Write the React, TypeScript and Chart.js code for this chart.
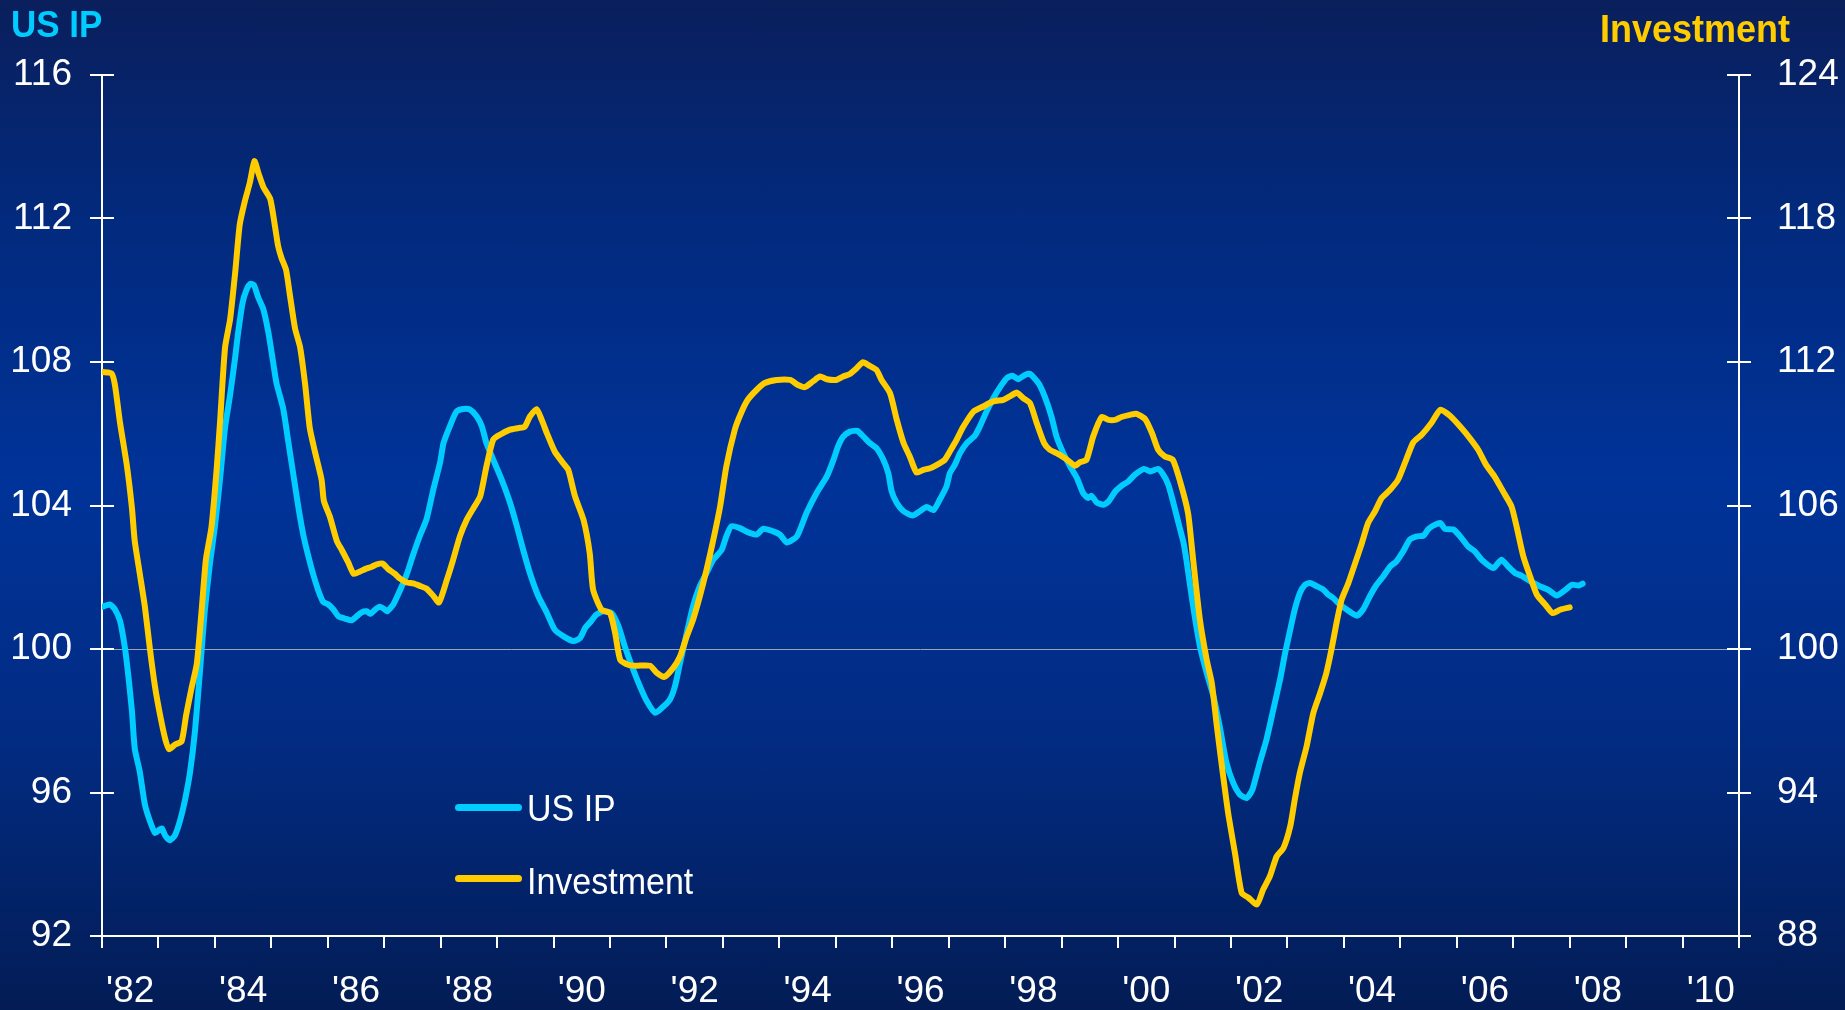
import React, { useEffect, useRef } from "react";
import { Chart, registerables } from "chart.js";

Chart.register(...registerables);

// ---- Data (decimal year, value) ----
const ipYears = [
  1982.01, 1982.14, 1982.23, 1982.32, 1982.41, 1982.47, 1982.53, 1982.58, 1982.67, 1982.76,
  1982.85, 1982.94, 1983.02, 1983.06, 1983.12, 1983.2, 1983.29, 1983.38, 1983.47, 1983.56,
  1983.65, 1983.74, 1983.82, 1983.91, 1984.0, 1984.09, 1984.18, 1984.27, 1984.36, 1984.41,
  1984.49, 1984.56, 1984.63, 1984.69, 1984.77, 1984.86, 1984.95, 1985.03, 1985.09, 1985.21,
  1985.3, 1985.39, 1985.48, 1985.57, 1985.65, 1985.74, 1985.83, 1985.92, 1986.01, 1986.1,
  1986.19, 1986.3, 1986.42, 1986.51, 1986.6, 1986.69, 1986.75, 1986.84, 1986.92, 1987.01,
  1987.05, 1987.16, 1987.28, 1987.4, 1987.51, 1987.63, 1987.75, 1987.87, 1987.99, 1988.05,
  1988.16, 1988.28, 1988.4, 1988.52, 1988.64, 1988.73, 1988.81, 1988.93, 1989.08, 1989.23,
  1989.35, 1989.46, 1989.58, 1989.73, 1989.88, 1990.02, 1990.17, 1990.35, 1990.47, 1990.56,
  1990.64, 1990.76, 1990.88, 1991.03, 1991.15, 1991.26, 1991.41, 1991.53, 1991.65, 1991.8,
  1991.92, 1992.06, 1992.15, 1992.24, 1992.36, 1992.47, 1992.59, 1992.71, 1992.83, 1992.98,
  1993.06, 1993.15, 1993.3, 1993.45, 1993.6, 1993.71, 1993.89, 1994.01, 1994.13, 1994.31,
  1994.48, 1994.66, 1994.84, 1994.96, 1995.04, 1995.13, 1995.25, 1995.38, 1995.49, 1995.6,
  1995.72, 1995.84, 1995.93, 1995.99, 1996.08, 1996.2, 1996.36, 1996.49, 1996.61, 1996.73,
  1996.84, 1996.96, 1997.02, 1997.11, 1997.2, 1997.32, 1997.46, 1997.55, 1997.67, 1997.79,
  1997.91, 1998.03, 1998.13, 1998.23, 1998.35, 1998.44, 1998.59, 1998.7, 1998.82, 1998.91,
  1999.03, 1999.15, 1999.27, 1999.38, 1999.47, 1999.53, 1999.62, 1999.74, 1999.83, 1999.95,
  2000.06, 2000.18, 2000.3, 2000.46, 2000.57, 2000.71, 2000.8, 2000.89, 2000.98, 2001.07,
  2001.16, 2001.21, 2001.33, 2001.45, 2001.57, 2001.69, 2001.8, 2001.92, 2002.04, 2002.16,
  2002.28, 2002.38, 2002.51, 2002.63, 2002.75, 2002.87, 2002.96, 2003.05, 2003.13, 2003.22,
  2003.31, 2003.4, 2003.52, 2003.64, 2003.72, 2003.81, 2003.93, 2004.05, 2004.23, 2004.34,
  2004.46, 2004.58, 2004.7, 2004.82, 2004.93, 2005.05, 2005.17, 2005.29, 2005.41, 2005.5,
  2005.61, 2005.71, 2005.79, 2005.94, 2006.06, 2006.2, 2006.32, 2006.44, 2006.65, 2006.79,
  2006.91, 2007.03, 2007.15, 2007.3, 2007.47, 2007.62, 2007.77, 2007.92, 2008.04, 2008.16,
  2008.23,
];
const ipValues = [
  101.18, 101.24, 101.1, 100.78, 99.99, 99.2, 98.28, 97.23, 96.57, 95.66,
  95.2, 94.87, 94.97, 95.0, 94.8, 94.67, 94.8, 95.2, 95.79, 96.57,
  97.76, 99.47, 101.05, 102.36, 103.41, 104.72, 106.17, 107.09, 108.14, 108.8,
  109.65, 110.01, 110.18, 110.15, 109.79, 109.46, 108.8, 108.01, 107.42, 106.7,
  105.78, 104.86, 103.94, 103.15, 102.62, 102.09, 101.64, 101.31, 101.24, 101.1,
  100.91, 100.85, 100.8, 100.91, 101.02, 101.05, 100.98, 101.1, 101.18, 101.1,
  101.05, 101.24, 101.64, 102.09, 102.62, 103.15, 103.62, 104.45, 105.2, 105.74,
  106.2, 106.62, 106.69, 106.67, 106.48, 106.2, 105.74, 105.28, 104.72, 104.07,
  103.42, 102.77, 102.12, 101.47, 101.01, 100.54, 100.36, 100.22, 100.31, 100.59,
  100.73, 100.96, 101.05, 101.0, 100.63, 100.08, 99.43, 98.96, 98.55, 98.22,
  98.36, 98.59, 98.96, 99.61, 100.45, 101.19, 101.75, 102.12, 102.49, 102.77,
  103.14, 103.42, 103.37, 103.25, 103.19, 103.35, 103.28, 103.19, 102.97, 103.14,
  103.79, 104.35, 104.81, 105.28, 105.65, 105.92, 106.06, 106.08, 105.92, 105.74,
  105.6, 105.28, 104.9, 104.39, 104.07, 103.84, 103.72, 103.84, 103.96, 103.87,
  104.16, 104.53, 104.9, 105.14, 105.46, 105.74, 105.94, 106.2, 106.62, 106.99,
  107.3, 107.55, 107.62, 107.52, 107.64, 107.67, 107.41, 107.04, 106.48, 105.92,
  105.46, 105.09, 104.77, 104.35, 104.21, 104.27, 104.09, 104.02, 104.11, 104.39,
  104.55, 104.67, 104.86, 105.02, 104.95, 105.02, 104.86, 104.58, 104.07, 103.51,
  102.96, 102.49, 101.19, 100.08, 99.33, 98.68, 97.85, 96.83, 96.27, 95.94,
  95.85, 96.08, 96.83, 97.48, 98.31, 99.15, 99.89, 100.54, 101.1, 101.56,
  101.79, 101.84, 101.75, 101.65, 101.52, 101.42, 101.24, 101.1, 100.93, 101.1,
  101.47, 101.79, 102.03, 102.3, 102.44, 102.72, 103.05, 103.14, 103.16, 103.35,
  103.46, 103.51, 103.35, 103.33, 103.14, 102.86, 102.72, 102.49, 102.26, 102.49,
  102.3, 102.12, 102.04, 101.89, 101.75, 101.65, 101.49, 101.64, 101.79, 101.77,
  101.82,
];

const invYears = [
  1982.01, 1982.17, 1982.23, 1982.32, 1982.44, 1982.53, 1982.58, 1982.67, 1982.76, 1982.85,
  1982.94, 1983.03, 1983.12, 1983.19, 1983.29, 1983.41, 1983.49, 1983.59, 1983.68, 1983.77,
  1983.84, 1983.94, 1984.03, 1984.09, 1984.18, 1984.27, 1984.36, 1984.44, 1984.53, 1984.62,
  1984.7, 1984.77, 1984.86, 1984.98, 1985.06, 1985.12, 1985.18, 1985.26, 1985.33, 1985.42,
  1985.51, 1985.6, 1985.68, 1985.77, 1985.89, 1985.93, 1986.04, 1986.16, 1986.25, 1986.36,
  1986.46, 1986.57, 1986.66, 1986.78, 1986.87, 1986.97, 1987.07, 1987.19, 1987.28, 1987.4,
  1987.51, 1987.63, 1987.75, 1987.87, 1987.97, 1988.11, 1988.22, 1988.34, 1988.46, 1988.58,
  1988.7, 1988.81, 1988.93, 1989.05, 1989.23, 1989.38, 1989.49, 1989.58, 1989.7, 1989.79,
  1989.88, 1990.02, 1990.17, 1990.26, 1990.38, 1990.53, 1990.64, 1990.7, 1990.85, 1991.0,
  1991.09, 1991.18, 1991.32, 1991.47, 1991.71, 1991.83, 1991.96, 1992.12, 1992.24, 1992.36,
  1992.47, 1992.59, 1992.71, 1992.83, 1992.95, 1993.06, 1993.21, 1993.32, 1993.44, 1993.6,
  1993.74, 1993.95, 1994.19, 1994.33, 1994.45, 1994.6, 1994.72, 1994.84, 1995.01, 1995.13,
  1995.25, 1995.37, 1995.48, 1995.6, 1995.72, 1995.81, 1995.96, 1996.08, 1996.2, 1996.31,
  1996.43, 1996.55, 1996.67, 1996.79, 1996.93, 1997.02, 1997.14, 1997.26, 1997.44, 1997.61,
  1997.79, 1997.97, 1998.08, 1998.21, 1998.32, 1998.44, 1998.56, 1998.69, 1998.79, 1998.91,
  1999.06, 1999.24, 1999.32, 1999.44, 1999.56, 1999.71, 1999.83, 1999.95, 2000.06, 2000.21,
  2000.33, 2000.48, 2000.6, 2000.71, 2000.83, 2000.97, 2001.1, 2001.24, 2001.33, 2001.45,
  2001.57, 2001.66, 2001.75, 2001.84, 2001.95, 2002.07, 2002.19, 2002.31, 2002.46, 2002.57,
  2002.69, 2002.81, 2002.93, 2003.05, 2003.13, 2003.22, 2003.34, 2003.46, 2003.58, 2003.69,
  2003.78, 2003.87, 2003.96, 2004.08, 2004.2, 2004.32, 2004.43, 2004.55, 2004.67, 2004.82,
  2004.96, 2005.08, 2005.23, 2005.38, 2005.55, 2005.71, 2005.88, 2006.06, 2006.23, 2006.38,
  2006.52, 2006.67, 2006.82, 2006.97, 2007.06, 2007.18, 2007.3, 2007.42, 2007.57, 2007.7,
  2007.83, 2008.0,
];
const invValues = [
  111.58, 111.52, 111.03, 109.45, 107.68, 105.9, 104.52, 103.14, 101.76, 99.98,
  98.41, 97.23, 96.24, 95.81, 96.0, 96.14, 97.23, 98.41, 99.39, 101.76,
  103.73, 105.11, 107.48, 109.45, 112.61, 113.79, 115.76, 117.74, 118.72, 119.51,
  120.4, 119.9, 119.31, 118.82, 117.74, 116.85, 116.35, 115.86, 114.78, 113.4,
  112.61, 111.03, 109.25, 108.27, 107.08, 106.2, 105.51, 104.52, 104.13, 103.63,
  103.14, 103.24, 103.34, 103.44, 103.54, 103.57, 103.34, 103.14, 102.94, 102.78,
  102.74, 102.64, 102.52, 102.22, 101.95, 102.9, 103.73, 104.71, 105.4, 105.89,
  106.38, 107.63, 108.75, 108.96, 109.17, 109.24, 109.3, 109.72, 110.03, 109.58,
  109.03, 108.26, 107.77, 107.49, 106.38, 105.4, 104.01, 102.48, 101.64, 101.5,
  100.67, 99.55, 99.34, 99.3, 99.3, 99.0, 98.83, 99.21, 99.69, 100.53,
  101.22, 102.2, 103.31, 104.57, 105.96, 107.63, 109.17, 109.86, 110.42, 110.84,
  111.12, 111.25, 111.25, 111.04, 110.95, 111.2, 111.39, 111.28, 111.25, 111.39,
  111.5, 111.74, 111.99, 111.84, 111.67, 111.25, 110.7, 109.58, 108.61, 108.05,
  107.38, 107.49, 107.56, 107.7, 107.91, 108.26, 108.75, 109.3, 109.93, 110.14,
  110.35, 110.42, 110.56, 110.72, 110.49, 110.28, 109.44, 108.61, 108.33, 108.19,
  107.98, 107.66, 107.8, 107.91, 108.89, 109.7, 109.58, 109.58, 109.7, 109.79,
  109.83, 109.61, 109.03, 108.33, 108.05, 107.91, 107.0, 105.68, 103.73, 101.22,
  99.55, 98.58, 96.77, 95.09, 93.15, 91.48, 89.8, 89.6, 89.32, 89.94,
  90.5, 91.33, 91.68, 92.59, 93.7, 94.82, 95.93, 97.33, 98.16, 99.0,
  99.97, 101.09, 102.06, 102.76, 103.59, 104.43, 105.27, 105.75, 106.31, 106.66,
  107.08, 107.77, 108.64, 108.96, 109.45, 110.0, 109.75, 109.3, 108.82, 108.33,
  107.7, 107.21, 106.59, 105.96, 105.12, 103.87, 103.03, 102.27, 101.85, 101.5,
  101.64, 101.74,
];

const xLabelYears = [1982, 1984, 1986, 1988, 1990, 1992, 1994, 1996, 1998, 2000, 2002, 2004, 2006, 2008, 2010];
const xLabels = ["'82", "'84", "'86", "'88", "'90", "'92", "'94", "'96", "'98", "'00", "'02", "'04", "'06", "'08", "'10"];
const leftTicks = [92, 96, 100, 104, 108, 112, 116];
const rightTicks = [88, 94, 100, 106, 112, 118, 124];

const CYAN = "#00CCFF";
const GOLD = "#FFCC00";
const FONT = "Arial, 'Liberation Sans', sans-serif";

const axesPlugin = {
  id: "axesDraw",
  beforeDatasetsDraw(chart: any) {
    const { ctx, chartArea } = chart;
    const xs = chart.scales.x;
    const yl = chart.scales.y;
    const yr = chart.scales.y2;
    const lx = Math.round(chartArea.left);
    const rx = Math.round(chartArea.right);
    const ty = Math.round(chartArea.top);
    const by = Math.round(chartArea.bottom);
    const T = 12;
    ctx.save();
    ctx.strokeStyle = "#ffffff";
    ctx.lineWidth = 2;
    ctx.beginPath();
    ctx.moveTo(lx, ty);
    ctx.lineTo(lx, by + T);
    ctx.moveTo(rx, ty);
    ctx.lineTo(rx, by + T);
    ctx.moveTo(lx - T, by);
    ctx.lineTo(rx + T, by);
    yl.ticks.forEach((t: any) => {
      const p = Math.round(yl.getPixelForValue(t.value));
      ctx.moveTo(lx - T, p);
      ctx.lineTo(lx + T, p);
    });
    yr.ticks.forEach((t: any) => {
      const p = Math.round(yr.getPixelForValue(t.value));
      ctx.moveTo(rx - T, p);
      ctx.lineTo(rx + T, p);
    });
    for (let v = xs.min; v <= xs.max; v += 1) {
      const p = Math.round(xs.getPixelForValue(v));
      ctx.moveTo(p, by);
      ctx.lineTo(p, by + T);
    }
    ctx.stroke();
    ctx.restore();
  },
};

export default function App() {
  const canvasRef = useRef<HTMLCanvasElement | null>(null);

  useEffect(() => {
    if (!canvasRef.current) return;
    const chart = new Chart(canvasRef.current, {
      type: "line",
      data: {
        datasets: [
          {
            label: "Investment",
            data: invYears.map((x, i) => ({ x, y: invValues[i] })),
            borderColor: GOLD,
            borderWidth: 6,
            pointRadius: 0,
            tension: 0.2,
            borderJoinStyle: "round",
            borderCapStyle: "round",
            yAxisID: "y2",
            order: 0,
          },
          {
            label: "US IP",
            data: ipYears.map((x, i) => ({ x, y: ipValues[i] })),
            borderColor: CYAN,
            borderWidth: 6,
            pointRadius: 0,
            tension: 0.2,
            borderJoinStyle: "round",
            borderCapStyle: "round",
            yAxisID: "y",
            order: 1,
          },
        ],
      },
      options: {
        animation: false,
        responsive: false,
        devicePixelRatio: 1,
        layout: { padding: { top: 75, left: 0, right: 0, bottom: 0 } },
        plugins: {
          legend: { display: false },
          tooltip: { enabled: false },
          title: { display: false },
        },
        scales: {
          x: {
            type: "linear",
            min: 1982,
            max: 2011,
            grid: { display: false },
            border: { display: false },
            afterBuildTicks: (scale: any) => {
              scale.ticks = xLabelYears.map((y) => ({ value: y + 0.5 }));
            },
            afterFit: (scale: any) => {
              scale.height = 74;
            },
            ticks: {
              autoSkip: false,
              maxRotation: 0,
              padding: 26,
              color: "#ffffff",
              font: { family: FONT, size: 37 },
              callback: (value: any) => {
                const i = xLabelYears.findIndex((y) => Math.abs(y + 0.5 - value) < 0.01);
                return i >= 0 ? xLabels[i] : "";
              },
            },
          },
          y: {
            type: "linear",
            position: "left",
            min: 92,
            max: 116,
            afterBuildTicks: (scale: any) => {
              scale.ticks = leftTicks.map((v) => ({ value: v }));
            },
            afterFit: (scale: any) => {
              scale.width = 102;
            },
            grid: {
              display: true,
              drawTicks: false,
              drawOnChartArea: true,
              lineWidth: 1,
              color: (ctx: any) => (ctx.tick && ctx.tick.value === 100 ? "#9ea3b3" : "rgba(0,0,0,0)"),
            },
            border: { display: false },
            ticks: {
              padding: 30,
              color: "#ffffff",
              font: { family: FONT, size: 37 },
            },
          },
          y2: {
            type: "linear",
            position: "right",
            min: 88,
            max: 124,
            afterBuildTicks: (scale: any) => {
              scale.ticks = rightTicks.map((v) => ({ value: v }));
            },
            afterFit: (scale: any) => {
              scale.width = 106;
            },
            grid: { display: false },
            border: { display: false },
            ticks: {
              padding: 30,
              color: "#ffffff",
              font: { family: FONT, size: 37 },
            },
          },
        },
      },
      plugins: [axesPlugin],
    } as any);
    return () => chart.destroy();
  }, []);

  const legendText: React.CSSProperties = {
    position: "absolute",
    color: "#ffffff",
    fontFamily: FONT,
    fontSize: 34,
    lineHeight: "34px",
    whiteSpace: "nowrap",
    transform: "scaleY(1.1)",
    transformOrigin: "left top",
  };
  const swatch: React.CSSProperties = {
    position: "absolute",
    width: 67,
    height: 7,
    borderRadius: 4,
  };
  const title: React.CSSProperties = {
    position: "absolute",
    fontFamily: FONT,
    fontWeight: "bold",
    whiteSpace: "nowrap",
    transform: "scaleY(1.08)",
    transformOrigin: "left top",
  };

  return (
    <div
      style={{
        position: "absolute",
        left: 0,
        top: 0,
        width: 1845,
        height: 1010,
        overflow: "hidden",
        background:
          "linear-gradient(to bottom, #0a1f5c 0%, #022a7e 22%, #003399 48%, #022c84 72%, #031c55 100%)",
      }}
    >
      <canvas ref={canvasRef} width={1845} height={1010} style={{ position: "absolute", left: 0, top: 0 }} />
      <div style={{ ...title, left: 11, top: 5, color: CYAN, fontSize: 35, lineHeight: "35px" }}>US IP</div>
      <div style={{ ...title, left: 1600, top: 10, color: GOLD, fontSize: 36, lineHeight: "36px" }}>Investment</div>
      <div style={{ ...swatch, left: 455, top: 804, background: CYAN }} />
      <div style={{ ...legendText, left: 527, top: 789 }}>US IP</div>
      <div style={{ ...swatch, left: 455, top: 875, background: GOLD }} />
      <div style={{ ...legendText, left: 527, top: 862 }}>Investment</div>
    </div>
  );
}
